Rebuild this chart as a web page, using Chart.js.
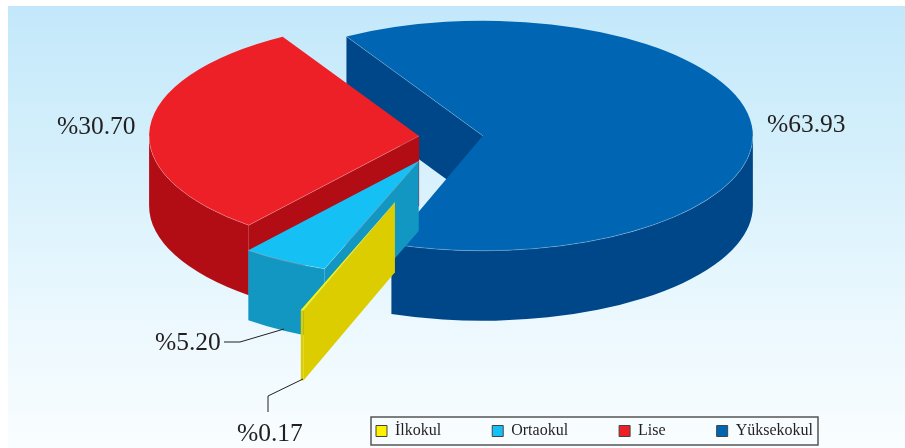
<!DOCTYPE html>
<html><head><meta charset="utf-8">
<style>html,body{margin:0;padding:0;background:#fff}canvas{display:block}</style>
<script src="https://cdn.jsdelivr.net/npm/chart.js@4"></script>
</head><body><canvas id="c" width="905" height="448"></canvas>
<script>
const categories = ['İlkokul', 'Ortaokul', 'Lise', 'Yüksekokul'];
const shares = [0.17, 5.20, 30.70, 63.93];
const explode = [163, 65, 32, 32];
const topColors = ['#fff200', '#15c0f4', '#ee2027', '#0066b3'];
const wallColors = ['#dccd00', '#1197c2', '#b20d14', '#00478a'];

const CX = 451, CY = 137, K = 0.426, DEPTH = 70;
const SERIF = '"Liberation Serif", "Times New Roman", serif';
const INK = '#231f20';
const valueLabels = [
  {i: 3, x: 767, y: 132},
  {i: 2, x: 57, y: 134},
  {i: 1, x: 155, y: 350},
  {i: 0, x: 237, y: 441}
];
const leaders = [
  [[224, 342], [240, 342], [284, 329]],
  [[268, 412], [268, 396], [303, 379]]
];

const pie3d = {
  id: 'pie3d',
  beforeDraw(chart) {
    const {ctx} = chart;
    const g = ctx.createLinearGradient(0, 6, 0, 448);
    g.addColorStop(0, '#c3e8fb');
    g.addColorStop(0.3, '#d3effb');
    g.addColorStop(0.7, '#ebf8fe');
    g.addColorStop(1, '#f9fdff');
    ctx.save();
    ctx.fillStyle = g;
    ctx.fillRect(8, 6, 897, 442);
    ctx.restore();
  },
  afterLayout(chart) {
    const l = chart.legend;
    const h = l.bottom - l.top;
    l.left = 325; l.right = 905;
    l.width = 580;
    l.top = 423 - 51; l.bottom = l.top + h;
    l.height = h;
  },
  beforeDatasetDraw(chart, args) {
    const {ctx} = chart;
    const arcs = chart.getDatasetMeta(args.index).data;
    for (let i = arcs.length - 1; i >= 0; i--) {
      const a = arcs[i];
      const s = a.startAngle, e = a.endAngle, R = a.outerRadius;
      const mid = (s + e) / 2;
      const ox = CX + explode[i] * Math.cos(mid);
      const oy = CY + explode[i] * Math.sin(mid) * K;
      const sx = ox + R * Math.cos(s), sy = oy + R * K * Math.sin(s);
      ctx.save();
      ctx.fillStyle = wallColors[i];
      ctx.beginPath();
      ctx.moveTo(ox, oy);
      ctx.lineTo(sx, sy);
      ctx.lineTo(sx, sy + DEPTH);
      ctx.lineTo(ox, oy + DEPTH);
      ctx.closePath();
      ctx.fill();
      const tau = Math.PI * 2;
      let s0 = ((s % tau) + tau) % tau, e0 = s0 + (e - s);
      const ranges = [[s0, e0], [s0 - tau, e0 - tau], [s0 + tau, e0 + tau]];
      let rimA = null, rimB = null;
      for (const [p, q] of ranges) {
        const lo = Math.max(p, 0), hi = Math.min(q, Math.PI);
        if (hi > lo) { rimA = lo; rimB = hi; }
      }
      if (rimA !== null) {
        ctx.beginPath();
        ctx.ellipse(ox, oy, R, R * K, 0, rimA, rimB);
        ctx.ellipse(ox, oy + DEPTH, R, R * K, 0, rimB, rimA, true);
        ctx.closePath();
        ctx.fill();
      }
      ctx.save();
      ctx.translate(ox, oy);
      ctx.scale(1, K);
      ctx.translate(-a.x, -a.y);
      a.draw(ctx, chart.chartArea);
      ctx.restore();
      ctx.strokeStyle = 'rgba(255,255,255,0.3)';
      ctx.lineWidth = 0.8;
      ctx.beginPath();
      ctx.moveTo(ox, oy);
      ctx.lineTo(sx, sy);
      if (rimA !== null) {
        ctx.moveTo(ox + R * Math.cos(rimA), oy + R * K * Math.sin(rimA));
        ctx.ellipse(ox, oy, R, R * K, 0, rimA, rimB);
      }
      ctx.stroke();
      ctx.restore();
    }
    return false;
  },
  afterDraw(chart) {
    const {ctx} = chart;
    ctx.save();
    ctx.strokeStyle = '#555';
    ctx.lineWidth = 1.5;
    ctx.strokeRect(371, 417, 447, 28);
    ctx.strokeStyle = INK;
    ctx.lineWidth = 1;
    leaders.forEach(pts => {
      ctx.beginPath();
      pts.forEach(([x, y], n) => n ? ctx.lineTo(x, y) : ctx.moveTo(x, y));
      ctx.stroke();
    });
    ctx.fillStyle = INK;
    ctx.font = '25.5px ' + SERIF;
    ctx.textBaseline = 'alphabetic';
    valueLabels.forEach(l => ctx.fillText('%' + shares[l.i].toFixed(2), l.x, l.y));
    ctx.restore();
  }
};

new Chart(document.getElementById('c'), {
  type: 'pie',
  data: {
    labels: categories,
    datasets: [{data: shares, backgroundColor: topColors, borderWidth: 0}]
  },
  options: {
    responsive: false,
    animation: false,
    radius: 270,
    rotation: 199.8,
    plugins: {
      tooltip: {enabled: false},
      legend: {
        position: 'bottom',
        align: 'start',
        labels: {
          color: INK,
          boxWidth: 11,
          boxHeight: 11,
          padding: 51,
          font: {family: SERIF, size: 16},
          generateLabels: () => categories.map((t, i) => ({
            text: t, fillStyle: topColors[i], strokeStyle: '#444', lineWidth: 1, index: i, fontColor: INK
          }))
        }
      }
    }
  },
  plugins: [pie3d]
});
</script></body></html>
